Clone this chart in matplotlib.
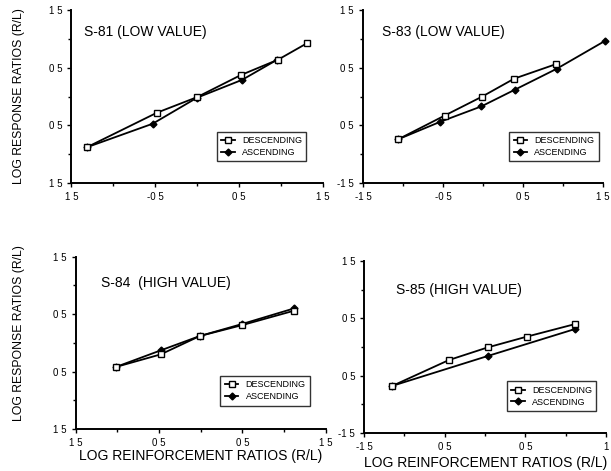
import matplotlib.pyplot as plt
from matplotlib.lines import Line2D
import numpy as np

plt.rcParams['font.family'] = ['Liberation Sans', 'DejaVu Sans']

# S-81 (low value)
s81_desc_x = [-1.32, -0.48, 0.00, 0.52, 0.97, 1.31]
s81_desc_y = [-0.88, -0.28, -0.01, 0.37, 0.64, 0.92]
s81_asc_x = [-1.32, -0.53, 0.00, 0.54, 0.96]
s81_asc_y = [-0.88, -0.47, -0.02, 0.29, 0.64]

# S-83 (low value)
s83_desc_x = [-1.06, -0.48, -0.01, 0.39, 0.91]
s83_desc_y = [-0.74, -0.33, 0.00, 0.31, 0.56]
s83_asc_x = [-1.06, -0.54, -0.02, 0.40, 0.92, 1.52]
s83_asc_y = [-0.74, -0.44, -0.17, 0.12, 0.48, 0.96]

# S-84 (high value)
s84_desc_x = [-1.02, -0.48, -0.01, 0.50, 1.12]
s84_desc_y = [-0.42, -0.20, 0.12, 0.31, 0.56]
s84_asc_x = [-1.02, -0.48, -0.01, 0.50, 1.12]
s84_asc_y = [-0.42, -0.13, 0.12, 0.33, 0.60]

# S-85 (high value)
s85_desc_x = [-1.15, -0.45, 0.03, 0.52, 1.12]
s85_desc_y = [-0.68, -0.23, -0.01, 0.18, 0.40]
s85_asc_x = [-1.15, 0.03, 1.11]
s85_asc_y = [-0.68, -0.16, 0.31]

titles = ['S-81 (LOW VALUE)', 'S-83 (LOW VALUE)', 'S-84  (HIGH VALUE)', 'S-85 (HIGH VALUE)']
major_ticks = [-1.5, -0.5, 0.5, 1.5]
minor_ticks = [-1.0, 0.0, 1.0]
# tick labels as printed (decimal points lost in the print)
ylabels = [['1 5', '0 5', '0 5', '1 5'],
           ['-1 5', '0 5', '0 5', '1 5'],
           ['1 5', '0 5', '0 5', '1 5'],
           ['-1 5', '0 5', '0 5', '1 5']]
xlabels = [['1 5', '-0 5', '0 5', '1 5'],
           ['-1 5', '-0 5', '0 5', '1 5'],
           ['1 5', '0 5', '0 5', '1 5'],
           ['-1 5', '0 5', '0 5', '1']]

fig = plt.figure(figsize=(6.11, 4.71), dpi=100)

positions = [[0.117, 0.611, 0.411, 0.368],
             [0.594, 0.611, 0.393, 0.368],
             [0.124, 0.089, 0.409, 0.366],
             [0.596, 0.081, 0.396, 0.365]]
title_pos = [(0.05, 0.87), (0.08, 0.87), (0.10, 0.85), (0.13, 0.83)]
legend_pos = [(0.56, 0.10), (0.59, 0.10), (0.56, 0.11), (0.57, 0.10)]

data = [(s81_desc_x, s81_desc_y, s81_asc_x, s81_asc_y),
        (s83_desc_x, s83_desc_y, s83_asc_x, s83_asc_y),
        (s84_desc_x, s84_desc_y, s84_asc_x, s84_asc_y),
        (s85_desc_x, s85_desc_y, s85_asc_x, s85_asc_y)]

for i in range(4):
    ax = fig.add_axes(positions[i])
    dx, dy, axx, ayy = data[i]
    ax.plot(axx, ayy, '-', color='black', lw=1.3, marker='D', ms=3.5,
            mfc='black', mec='black', zorder=3, clip_on=False)
    ax.plot(dx, dy, '-', color='black', lw=1.3, marker='s', ms=4.5,
            mfc='white', mec='black', mew=1.0, zorder=4, clip_on=False)
    ax.set_xlim(-1.5, 1.5)
    ax.set_ylim(-1.5, 1.5)
    for s in ['top', 'right']:
        ax.spines[s].set_visible(False)
    for s in ['left', 'bottom']:
        ax.spines[s].set_linewidth(1.4)
    ax.set_xticks(major_ticks)
    ax.set_yticks(major_ticks)
    ax.set_xticks(minor_ticks, minor=True)
    ax.set_yticks(minor_ticks, minor=True)
    ax.set_xticklabels(xlabels[i], fontsize=7)
    ax.set_yticklabels(ylabels[i], fontsize=7)
    ax.tick_params(which='both', direction='out', length=3, width=1.0)
    ax.tick_params(which='minor', length=2)
    ax.text(title_pos[i][0], title_pos[i][1], titles[i], transform=ax.transAxes,
            fontsize=10, va='center', ha='left')
    handles = [Line2D([], [], color='black', lw=1.3, marker='s', ms=4,
                      mfc='white', mec='black'),
               Line2D([], [], color='black', lw=1.3, marker='D', ms=3.5,
                      mfc='black', mec='black')]
    leg = ax.legend(handles, ['DESCENDING', 'ASCENDING'], loc='lower left',
                    bbox_to_anchor=legend_pos[i], fontsize=6.5, frameon=True,
                    fancybox=False, edgecolor='black', handlelength=1.5,
                    handletextpad=0.8, borderpad=0.5, labelspacing=0.3)
    leg.get_frame().set_linewidth(1.0)
    if i == 2:
        ax.set_xlabel('LOG REINFORCEMENT RATIOS (R/L)', fontsize=10, labelpad=1)
    if i == 3:
        ax.set_xlabel('LOG REINFORCEMENT RATIOS (R/L)', fontsize=10, labelpad=3)

fig.text(0.031, 0.796, 'LOG RESPONSE RATIOS (R/L)', rotation=90, fontsize=8.8,
         ha='center', va='center')
fig.text(0.031, 0.293, 'LOG RESPONSE RATIOS (R/L)', rotation=90, fontsize=8.8,
         ha='center', va='center')

plt.savefig('out.png', dpi=100)
